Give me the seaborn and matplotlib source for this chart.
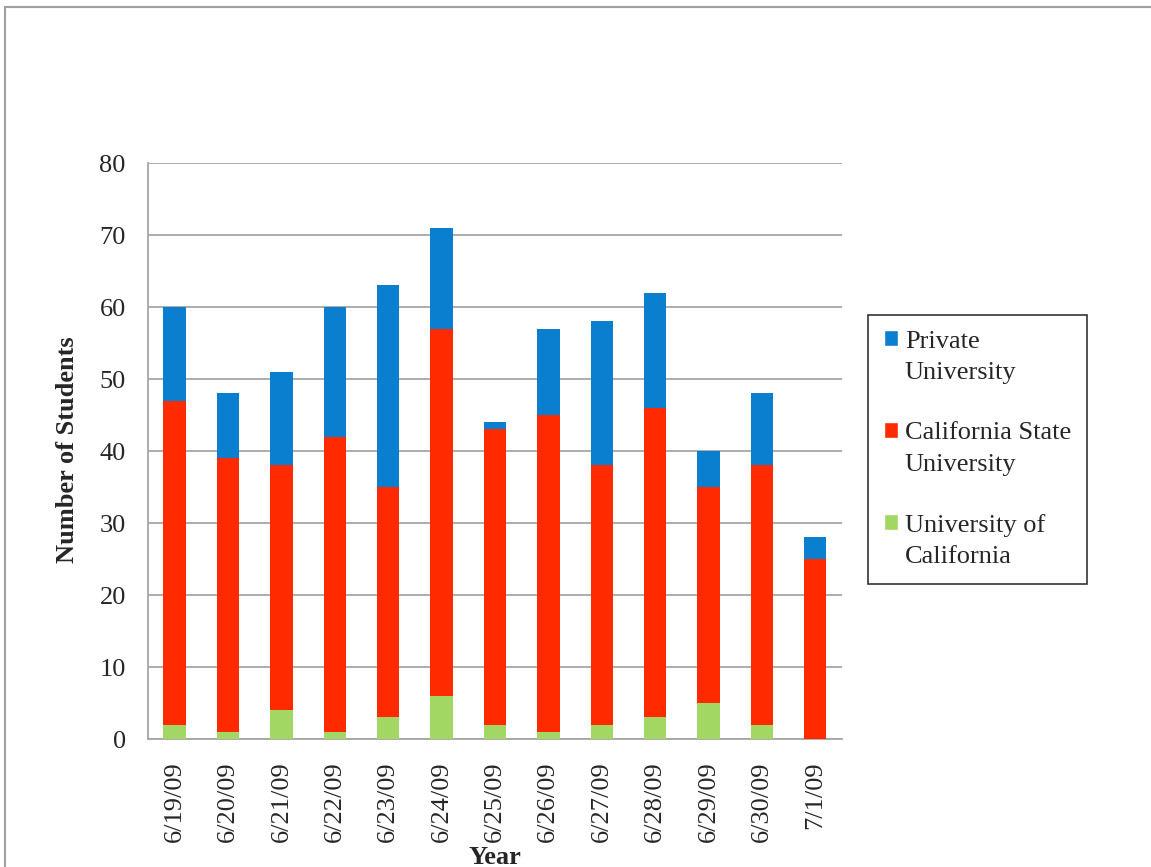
import matplotlib
matplotlib.use("Agg")
import matplotlib.pyplot as plt
import seaborn as sns
import numpy as np
import pandas as pd
from matplotlib.patches import Rectangle, Patch
from matplotlib.legend_handler import HandlerPatch

dates = ["6/19/09", "6/20/09", "6/21/09", "6/22/09", "6/23/09", "6/24/09", "6/25/09",
         "6/26/09", "6/27/09", "6/28/09", "6/29/09", "6/30/09", "7/1/09"]
uc = [2, 1, 4, 1, 3, 6, 2, 1, 2, 3, 5, 2, 0]
csu = [45, 38, 34, 41, 32, 51, 41, 44, 36, 43, 30, 36, 25]
private = [13, 9, 13, 18, 28, 14, 1, 12, 20, 16, 5, 10, 3]

series = ["Private University", "California State University", "University of California"]
colors = {"Private University": "#0a7fcf",
          "California State University": "#ff2a00",
          "University of California": "#a2d764"}

sns.set_style("white")
plt.rcParams["font.family"] = ["Liberation Serif", "DejaVu Serif"]
FS = 19

df = pd.DataFrame({"date": dates, "uc": uc, "csu": csu, "private": private})
df["lvl_uc"] = df["uc"]
df["lvl_csu"] = df["uc"] + df["csu"]
df["lvl_private"] = df["lvl_csu"] + df["private"]

fig = plt.figure(figsize=(11.51, 8.67), dpi=100)
ax = fig.add_axes([0.1286, 0.1476, 0.6029, 0.6643])

# stacked: draw cumulative totals from top series down
for col, name in [("lvl_private", series[0]), ("lvl_csu", series[1]), ("lvl_uc", series[2])]:
    sns.barplot(data=df, x="date", y=col, color=colors[name], width=0.42,
                saturation=1, ax=ax, zorder=3, linewidth=0)

ax.set_ylim(0, 80)
ax.set_xlim(-0.5, len(dates) - 0.5)
ax.set_yticks(np.arange(0, 81, 10))
ax.yaxis.grid(True, color="#a6a6a6", linewidth=1.3, zorder=0)
ax.set_axisbelow(True)
for s in ["top", "right"]:
    ax.spines[s].set_visible(False)
for s in ["left", "bottom"]:
    ax.spines[s].set_color("#a6a6a6")
    ax.spines[s].set_linewidth(1.3)

ax.set_xticks(np.arange(len(dates)))
ax.set_xticklabels(dates, rotation=90, fontsize=FS)
ax.tick_params(axis="x", which="major", length=0, pad=16)
ax.set_xticks(np.arange(-0.5, len(dates)), minor=True)
ax.tick_params(axis="x", which="minor", length=8, width=1.3, color="#a6a6a6", direction="out")
ax.tick_params(axis="y", length=8, width=1.3, color="#a6a6a6", direction="out",
               labelsize=FS, pad=8)

ax.set_xlabel("Year", fontsize=FS, fontweight="bold")
ax.xaxis.set_label_coords(0.5, -0.186)
ax.set_ylabel("Number of Students", fontsize=FS, fontweight="bold")
ax.yaxis.set_label_coords(-0.099, 0.502)


def top_patch(legend, orig_handle, xdescent, ydescent, width, height, fontsize):
    # put the colour key next to the first line of a two-line label
    return Rectangle((-xdescent, -ydescent + 0.68 * fontsize), width, height)


handles = [Patch(facecolor=colors[n]) for n in series]
labels = ["Private\nUniversity", "California State\nUniversity", "University of\nCalifornia"]
leg = ax.legend(handles, labels, loc="center left", bbox_to_anchor=(1.0375, 0.503),
                borderaxespad=0, frameon=True, fontsize=FS, handlelength=0.55,
                handleheight=0.55, handletextpad=0.25, labelspacing=1.45, borderpad=0.6,
                fancybox=False, handler_map={Patch: HandlerPatch(patch_func=top_patch)})
leg.get_frame().set_edgecolor("black")
leg.get_frame().set_linewidth(1.2)
for t in leg.get_texts():
    t.set_linespacing(1.55)

fig.patches.append(Rectangle((5 / 1151, -0.1), 1.2, 1 - 7 / 867 + 0.1,
                             transform=fig.transFigure, fill=False,
                             edgecolor="#a0a0a0", linewidth=1.5))

fig.savefig("out.png", dpi=100)
